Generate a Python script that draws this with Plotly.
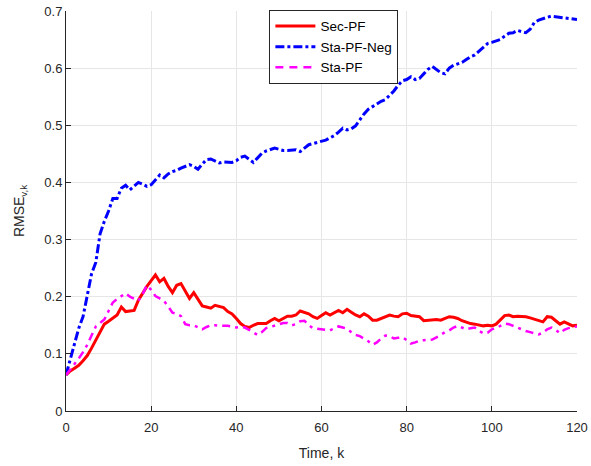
import plotly.graph_objects as go

time_k = list(range(0, 121))

sec_pf = [0.063, 0.07, 0.075, 0.08, 0.088, 0.097, 0.11, 0.124, 0.138, 0.152,
          0.157, 0.162, 0.168, 0.182, 0.174, 0.175, 0.176, 0.194, 0.207, 0.218,
          0.228, 0.238, 0.226, 0.232, 0.218, 0.207, 0.22, 0.223, 0.21, 0.197,
          0.207, 0.195, 0.184, 0.182, 0.18, 0.185, 0.183, 0.181, 0.174, 0.17,
          0.162, 0.153, 0.148, 0.146, 0.15, 0.153, 0.153, 0.153, 0.158, 0.162,
          0.158, 0.162, 0.166, 0.166, 0.168, 0.175, 0.173, 0.17, 0.165, 0.162,
          0.167, 0.172, 0.168, 0.172, 0.176, 0.172, 0.178, 0.173, 0.168, 0.165,
          0.17, 0.166, 0.159, 0.159, 0.162, 0.166, 0.168, 0.166, 0.165, 0.17,
          0.171, 0.167, 0.166, 0.165, 0.158, 0.159, 0.16, 0.16, 0.159, 0.162,
          0.165, 0.164, 0.162, 0.158, 0.155, 0.153, 0.152, 0.15, 0.149, 0.15,
          0.149, 0.152, 0.16, 0.167, 0.168, 0.165, 0.166, 0.166, 0.165, 0.163,
          0.161, 0.159, 0.156, 0.165, 0.164, 0.158, 0.152, 0.156, 0.153, 0.149,
          0.15]

sta_pf_neg = [0.063, 0.09, 0.12, 0.145, 0.165, 0.205, 0.24, 0.26, 0.31, 0.332,
              0.35, 0.372, 0.372, 0.39, 0.395, 0.387, 0.393, 0.4, 0.397, 0.393,
              0.396, 0.405, 0.413, 0.408, 0.415, 0.419, 0.421, 0.425, 0.428, 0.431,
              0.428, 0.423, 0.432, 0.44, 0.441, 0.437, 0.434, 0.436, 0.435, 0.435,
              0.438, 0.444, 0.446, 0.44, 0.435, 0.443, 0.451, 0.455, 0.457, 0.46,
              0.458, 0.456, 0.456, 0.457, 0.457, 0.454, 0.46, 0.466, 0.468, 0.47,
              0.471, 0.474, 0.478, 0.482, 0.488, 0.495, 0.492, 0.494, 0.499, 0.51,
              0.52, 0.528, 0.533, 0.538, 0.542, 0.545, 0.553, 0.56, 0.57, 0.578,
              0.58, 0.585, 0.58, 0.582, 0.59, 0.598, 0.603, 0.598, 0.592, 0.59,
              0.6, 0.605, 0.607, 0.61, 0.615, 0.62, 0.623, 0.63, 0.637, 0.643,
              0.645, 0.647, 0.65, 0.656, 0.661, 0.662, 0.666, 0.664, 0.662, 0.668,
              0.68, 0.684, 0.687, 0.689, 0.691, 0.69, 0.688, 0.687, 0.686, 0.686,
              0.685]

sta_pf = [0.063, 0.072, 0.082, 0.092, 0.103, 0.116, 0.132, 0.148, 0.154, 0.16,
          0.175, 0.19, 0.196, 0.201, 0.206, 0.2, 0.196, 0.193, 0.205, 0.22,
          0.212, 0.201, 0.197, 0.193, 0.183, 0.172, 0.17, 0.166, 0.152, 0.15,
          0.15, 0.146, 0.143, 0.147, 0.15, 0.15, 0.149, 0.149, 0.149, 0.148,
          0.146, 0.147, 0.146, 0.142, 0.137, 0.133, 0.138, 0.145, 0.147, 0.149,
          0.151, 0.154, 0.154, 0.15, 0.152, 0.157, 0.158, 0.15, 0.145, 0.144,
          0.142, 0.141, 0.141, 0.145, 0.148, 0.146, 0.144, 0.138, 0.133, 0.131,
          0.127, 0.122, 0.116, 0.12, 0.127, 0.132, 0.131, 0.127, 0.128, 0.129,
          0.124, 0.118, 0.12, 0.123, 0.124, 0.125, 0.125, 0.129, 0.134, 0.138,
          0.141, 0.146, 0.149, 0.146, 0.143, 0.145, 0.146, 0.14, 0.136, 0.137,
          0.143, 0.145, 0.149, 0.153, 0.152, 0.149, 0.146, 0.142, 0.14, 0.138,
          0.136, 0.134, 0.137, 0.143, 0.146, 0.142, 0.136, 0.142, 0.145, 0.146,
          0.148]

x_ticks = [0, 20, 40, 60, 80, 100, 120]
y_ticks = [0, 0.1, 0.2, 0.3, 0.4, 0.5, 0.6, 0.7]
y_tick_labels = ["0", "0.1", "0.2", "0.3", "0.4", "0.5", "0.6", "0.7"]

FONT = "Liberation Sans, Arial, sans-serif"

fig = go.Figure()
# data traces
fig.add_trace(go.Scatter(x=time_k, y=sec_pf, mode="lines", showlegend=False,
                         line=dict(color="#ff0000", width=3)))
fig.add_trace(go.Scatter(x=time_k, y=sta_pf_neg, mode="lines", showlegend=False,
                         line=dict(color="#0000ff", width=3, dash="9px,3px,3px,3px")))
fig.add_trace(go.Scatter(x=time_k, y=sta_pf, mode="lines", showlegend=False,
                         line=dict(color="#ff00ff", width=2.5, dash="8px,5px,3px,5px")))
# legend entries
fig.add_trace(go.Scatter(x=[None], y=[None], mode="lines", name="Sec-PF",
                         line=dict(color="#ff0000", width=3)))
fig.add_trace(go.Scatter(x=[None], y=[None], mode="lines", name="Sta-PF-Neg",
                         line=dict(color="#0000ff", width=3, dash="9px,3px,3px,3px")))
fig.add_trace(go.Scatter(x=[None], y=[None], mode="lines", name="Sta-PF",
                         line=dict(color="#ff00ff", width=2.5, dash="8px,6px")))

fig.update_layout(
    width=591, height=466,
    margin=dict(l=66, r=14, t=11, b=55, autoexpand=False),
    paper_bgcolor="white", plot_bgcolor="white",
    font=dict(family=FONT, size=13, color="#262626"),
    showlegend=True,
    legend=dict(x=0.398, y=1.003, xanchor="left", yanchor="top",
                bgcolor="white", bordercolor="#262626", borderwidth=1,
                font=dict(family=FONT, size=13.5, color="#000000"),
                tracegroupgap=0, itemwidth=40),
    xaxis=dict(range=[0, 120], tickvals=x_ticks, ticks="inside", ticklen=5,
               tickcolor="#262626", showline=True, linecolor="#262626", linewidth=1,
               showgrid=True, gridcolor="#e6e6e6", gridwidth=1, zeroline=False,
               automargin=False, ticklabelstandoff=4,
               title=dict(text="Time, k", font=dict(size=14), standoff=14),
               tickfont=dict(size=13)),
    yaxis=dict(range=[0, 0.7], tickvals=y_ticks, ticktext=y_tick_labels,
               ticks="inside", ticklen=5, tickcolor="#262626",
               showline=True, linecolor="#262626", linewidth=1,
               showgrid=True, gridcolor="#e6e6e6", gridwidth=1, zeroline=False,
               automargin=False,
               title=dict(text="RMSE<sub>v,k</sub>", font=dict(size=14), standoff=16),
               tickfont=dict(size=13)),
)

fig.write_html("out.html", config={"displayModeBar": False},
               post_script="document.body.style.margin='0';document.body.style.overflow='hidden';")
